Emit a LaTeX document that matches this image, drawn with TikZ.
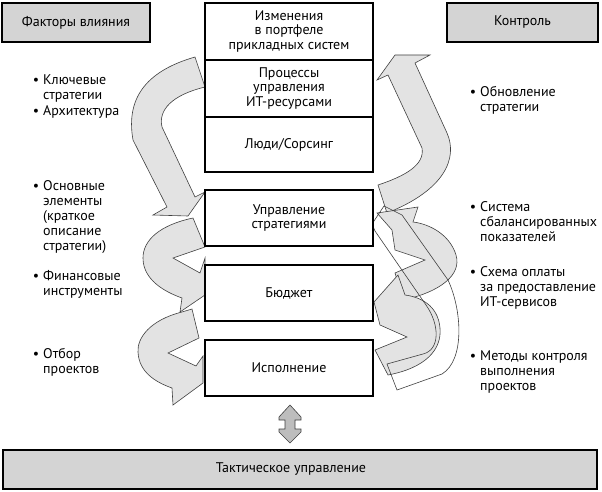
\documentclass[tikz,border=0pt]{standalone}
\usepackage{fontspec}
\setmainfont{PT Sans}
\usetikzlibrary{positioning, calc, backgrounds}
\definecolor{boxGray}{HTML}{D4D4D4}
\definecolor{flowGray}{HTML}{E3E3E3}
\definecolor{flowLine}{HTML}{404040}
\definecolor{tipGray}{HTML}{BDBDBD}
\newcommand{\itembullet}{\llap{\textbullet\hspace{4pt}}}

\begin{document}
\begin{tikzpicture}[x=1pt, y=-1pt, node distance=0pt,
    font=\fontsize{14pt}{14.5pt}\selectfont,
    stagebox/.style={draw, line width=1.6pt, fill=white, outer sep=0pt,
      minimum width=168pt, align=center},
    headbox/.style={draw, line width=1.6pt, fill=boxGray, minimum height=39pt},
    itemtext/.style={anchor=north west, align=left, inner sep=0pt,
      font=\fontsize{14pt}{15pt}\selectfont},
    flowarrow/.style={fill=flowGray, draw=flowLine, line width=0.6pt},
    linkarrow/.style={fill=tipGray, draw=flowLine, line width=0.6pt}]
    \useasboundingbox (0,0) rectangle (602,492);

    % central column
    \node[stagebox, minimum height=57pt] (port) at (289,31.5)
          {Изменения\\в портфеле\\прикладных систем};
    \node[stagebox, minimum height=57pt, below=of port] (proc)
          {Процессы\\управления\\ИТ-ресурсами};
    \node[stagebox, minimum height=55pt, below=of proc] (people) {Люди/Сорсинг};
    \node[stagebox, minimum height=56pt, below=18pt of people] (strat)
          {Управление\\стратегиями};
    \node[stagebox, minimum height=56pt, below=19pt of strat] (budget) {Бюджет};
    \node[stagebox, minimum height=56pt, below=19pt of budget] (exec) {Исполнение};

    % headers
    \node[headbox, minimum width=148pt] (infl) at (76,22.5) {Факторы влияния};
    \node[headbox, minimum width=151pt] (ctrl) at (522.5,22.5) {Контроль};
    \node[headbox, minimum width=594pt] (tact) at (300,469.5)
          {Тактическое управление\hspace*{18pt}};

    % left list
    \node[itemtext] (keystr) at (43,75) {\itembullet Ключевые\\стратегии};
    \node[itemtext] (archi) at (43,105) {\itembullet Архитектура};
    \node[itemtext] (basics) at (43,180)
          {\itembullet Основные\\элементы\\(краткое\\описание\\стратегии)};
    \node[itemtext] (fintools) at (43,270) {\itembullet Финансовые\\инструменты};
    \node[itemtext] (projsel) at (43,348) {\itembullet Отбор\\проектов};

    % right list
    \node[itemtext] (stratupd) at (480,86) {\itembullet Обновление\\стратегии};
    \node[itemtext] (bsc) at (480,201)
          {\itembullet Система\\сбалансированных\\показателей};
    \node[itemtext] (charge) at (480,266)
          {\itembullet Схема оплаты\\за предоставление\\ИТ-сервисов};
    \node[itemtext] (projctrl) at (480,350)
          {\itembullet Методы контроля\\выполнения\\проектов};

    % link to tactical level
    \draw[linkarrow] ($(exec.south)+(1,9)$) -- ++(-11,12) -- ++(0,3) -- ++(6,0)
      -- ++(0,9) -- ++(-6,0) -- ++(0,3) -- ++(11,11) -- ++(11,-11) -- ++(0,-3)
      -- ++(-6,0) -- ++(0,-9) -- ++(6,0) -- ++(0,-3) -- cycle;

    \begin{scope}[on background layer]
      % left flow
      \draw[flowarrow] (195,57) .. controls (150,70) and (125,95) .. (133,140)
        -- (167,207) -- (153,215) -- (188,216) -- (205,192) -- (195,197)
        -- (162,127) .. controls (158,110) and (172,95) .. (205,87) -- cycle;
      \draw[flowarrow] (193,218) .. controls (160,225) and (143,240) .. (143,258)
        .. controls (143,280) and (165,292) .. (182,298) -- (180,312)
        -- (205,295) -- (205,258) -- (200,273) -- (173,258) -- (205,247) -- cycle;
      \draw[flowarrow] (182,312) .. controls (150,320) and (137,338) .. (138,352)
        .. controls (139,372) and (155,382) .. (172,388) -- (173,405)
        -- (203,383) -- (203,356) -- (196,366) -- (168,353) -- (199,338)
        -- (192,309) -- cycle;
      % right flow
      \draw[flowarrow] (378,185) .. controls (405,176) and (425,165) .. (422,148)
        -- (388,75) -- (377,80) -- (395,55) -- (430,55) -- (415,63)
        -- (447,133) .. controls (458,158) and (445,190) .. (387,213) -- cycle;
      \draw[flowarrow] (395,273) -- (403,300) .. controls (440,292) and (462,275) .. (456,255)
        .. controls (450,235) and (430,224) .. (413,222) -- (418,207)
        -- (377,213) -- (392,230) -- (395,250) -- (425,260) -- cycle;
      \draw[flowarrow] (375,350) -- (388,375) .. controls (425,368) and (442,350) .. (440,328)
        .. controls (438,305) and (420,297) .. (405,295) -- (398,275)
        -- (374,302) -- (380,325) -- (407,337) -- cycle;
      \draw[draw=flowLine, line width=0.6pt] (372,224) -- (375,231) -- (426,305)
        .. controls (440,325) and (440,350) .. (423,354) -- (387,364) -- (397,390)
        -- (442,374) .. controls (465,360) and (462,310) .. (448,280)
        -- (402,215) -- (384,206) -- cycle;
    \end{scope}
\end{tikzpicture}
\end{document}
